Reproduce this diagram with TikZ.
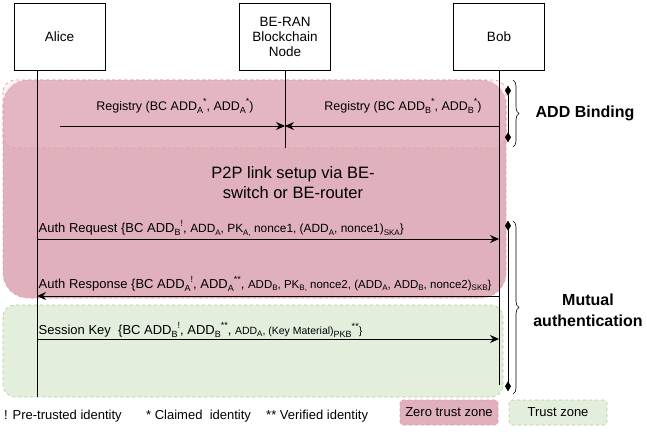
\documentclass[tikz,border=0pt]{standalone}
\usepackage{fontspec}
\setmainfont{Liberation Sans}
\usepackage{tikz}
\usetikzlibrary{arrows,arrows.meta}
\usetikzlibrary{positioning}
\usetikzlibrary{decorations.pathreplacing}
\usepackage{xcolor}

\definecolor{zeroFill}{HTML}{E0B0BC}
\definecolor{zeroTop}{HTML}{F2CAD2}
\definecolor{zeroLine}{HTML}{E597AA}
\definecolor{trustFill}{HTML}{E3EEDC}
\definecolor{trustLine}{HTML}{A9D18E}

% small indices for the message labels
\newcommand{\dnidx}[1]{\raisebox{-0.45ex}{\fontsize{9}{9}\selectfont #1}}
\newcommand{\upidx}[1]{\raisebox{0.85ex}{\fontsize{9}{9}\selectfont #1}}
\newcommand{\dnsm}[1]{\raisebox{-0.4ex}{\fontsize{8}{8}\selectfont #1}}
\newcommand{\bigtxt}{\fontsize{13}{15}\selectfont}
\newcommand{\smalltxt}{\fontsize{11.9}{13}\selectfont}
\newcommand{\resptxt}{\fontsize{11.5}{13}\selectfont}
\newcommand{\tinytxt}{\fontsize{10.5}{12}\selectfont}

\begin{document}
\begin{tikzpicture}[->,>={Stealth[length=9pt,width=8pt,inset=3pt]}, x=1pt, y=-1pt,
  actor/.style={draw, -, line width=0.8pt, align=center, minimum width=91pt,
    minimum height=67pt, font=\fontsize{13.5}{15}\selectfont},
  life/.style={-, line width=0.8pt},
  msg/.style={line width=0.8pt},
  zone/.style={-, fill=zeroFill, draw=zeroLine, dashed, line width=0.6pt},
  zonetop/.style={-, fill=zeroTop, fill opacity=0.25, draw=zeroLine, dashed, line width=0.6pt},
  trust/.style={-, fill=trustFill, draw=trustLine, dashed, line width=0.6pt},
  brace/.style={-, decorate, decoration={brace, amplitude=6pt}, line width=0.6pt},
  span/.style={diamond-diamond, line width=0.8pt},
  note/.style={font=\bigtxt, inner sep=0pt}]

 \useasboundingbox (0,0) rectangle (647,431);

 % zones behind the sequence
 \draw[zone, rounded corners=25pt] (3,80) rectangle (506,298);
 \draw[zonetop, rounded corners=12pt] (3,80) rectangle (506,148);
 \draw[trust, rounded corners=12pt] (3,305) rectangle (503,397);

 % the three parties
 \node[actor] (Alice) at (59.5,36.5) {Alice};
 \node[actor, right of=Alice, node distance=225.5pt] (BeRan) {BE-RAN\\Blockchain\\Node};
 \node[actor, right of=BeRan, node distance=214pt] (Bob) {Bob};

 % lifelines
 \coordinate (AliceEnd) at (37,397);
 \coordinate (BeRanEnd) at (BeRan.south |- 0,148);
 \coordinate (BobEnd) at (Bob.south |- 0,385);
 \draw[life] (Alice.south -| AliceEnd) -- (AliceEnd);
 \draw[life] (BeRan.south) -- (BeRanEnd);
 \draw[life] (Bob.south) -- (BobEnd);

 % ADD binding
 \coordinate (RegA) at (60,126);
 \coordinate (RegB) at (BobEnd |- RegA);
 \path (RegA) edge[msg] (BeRanEnd |- RegA);
 \path (RegB) edge[msg] (BeRanEnd |- RegB);
 \node[note, anchor=base, font=\fontsize{12.5}{14}\selectfont] (RegALbl) at (175,110.5)
  {Registry (BC ADD\dnidx{A}\upidx{*}, ADD\dnidx{A}\upidx{*})};
 \node[note, anchor=base, font=\fontsize{12.5}{14}\selectfont] (RegBLbl) at (403,110.5)
  {Registry (BC ADD\dnidx{B}\upidx{*}, ADD\dnidx{B}\upidx{*})};

 \node[align=center, font=\fontsize{16.5}{19.5}\selectfont] (P2P) at (293,182.5)
  {P2P link setup via BE-\\switch or BE-router};

 % mutual authentication
 \coordinate (AliceReq) at (AliceEnd |- 0,239);
 \coordinate (BobResp) at (BobEnd |- 0,296);
 \coordinate (AliceKey) at (AliceEnd |- 0,339);
 \path (AliceReq) edge[msg] (BobEnd |- AliceReq);
 \path (BobResp) edge[msg] (AliceEnd |- BobResp);
 \path (AliceKey) edge[msg] (BobEnd |- AliceKey);

 \node[note, anchor=base west] (ReqLbl) at (38.5,232.5)
  {Auth Request \{BC ADD\dnidx{B}\upidx{!}, {\smalltxt ADD\dnsm{A}, PK\dnsm{A,} nonce1, (ADD\dnsm{A}, nonce1)\dnsm{SKA}\}}};
 \node[note, anchor=base west] (RespLbl) at (38.5,288)
  {Auth Response \{BC ADD\dnidx{A}\upidx{!}, ADD\dnidx{A}\upidx{**}, {\resptxt ADD\dnsm{B}, PK\dnsm{B,} nonce2, (ADD\dnsm{A}, ADD\dnsm{B}, nonce2)\dnsm{SKB}\}}};
 \node[note, anchor=base west] (KeyLbl) at (38.5,334.5)
  {Session Key\ \ \{BC ADD\dnidx{B}\upidx{!}, ADD\dnidx{B}\upidx{**}, {\tinytxt ADD\dnsm{A}, (Key Material)\dnidx{PKB}\upidx{**}\}}};

 % spans and braces on the right
 \coordinate (BindTop) at (513,80);
 \coordinate (BindBot) at (513,147);
 \coordinate (AuthTop) at (513,221);
 \coordinate (AuthBot) at (513,394);
 \draw[span] (508,86) -- (508,142);
 \draw[span] (508,221) -- (508,391);
 \draw[brace] (BindTop) -- (BindBot);
 \draw[brace] (AuthTop) -- (AuthBot);
 \node[font=\fontsize{16}{19}\selectfont\bfseries] (AddBinding) at (585,113.5) {ADD Binding};
 \node[align=center, font=\fontsize{16}{21}\selectfont\bfseries] (Mutual) at (588,310) {Mutual\\authentication};

 % legend
 \node[note, anchor=base west] (PreTrust) at (4,419.5) {! Pre-trusted identity};
 \node[note, anchor=base west] (Claimed) at (146,419.5) {* Claimed\ \ identity};
 \node[note, anchor=base west] (Verified) at (266,419.5) {** Verified identity};
 \node[zone, rounded corners=3pt, minimum width=98pt, minimum height=25pt, font=\bigtxt] (ZeroBox) at (449,412.5) {Zero trust zone};
 \node[trust, rounded corners=3pt, minimum width=98pt, minimum height=25pt, font=\bigtxt] (TrustBox) at (558,412.5) {Trust zone};

\end{tikzpicture}
\end{document}
